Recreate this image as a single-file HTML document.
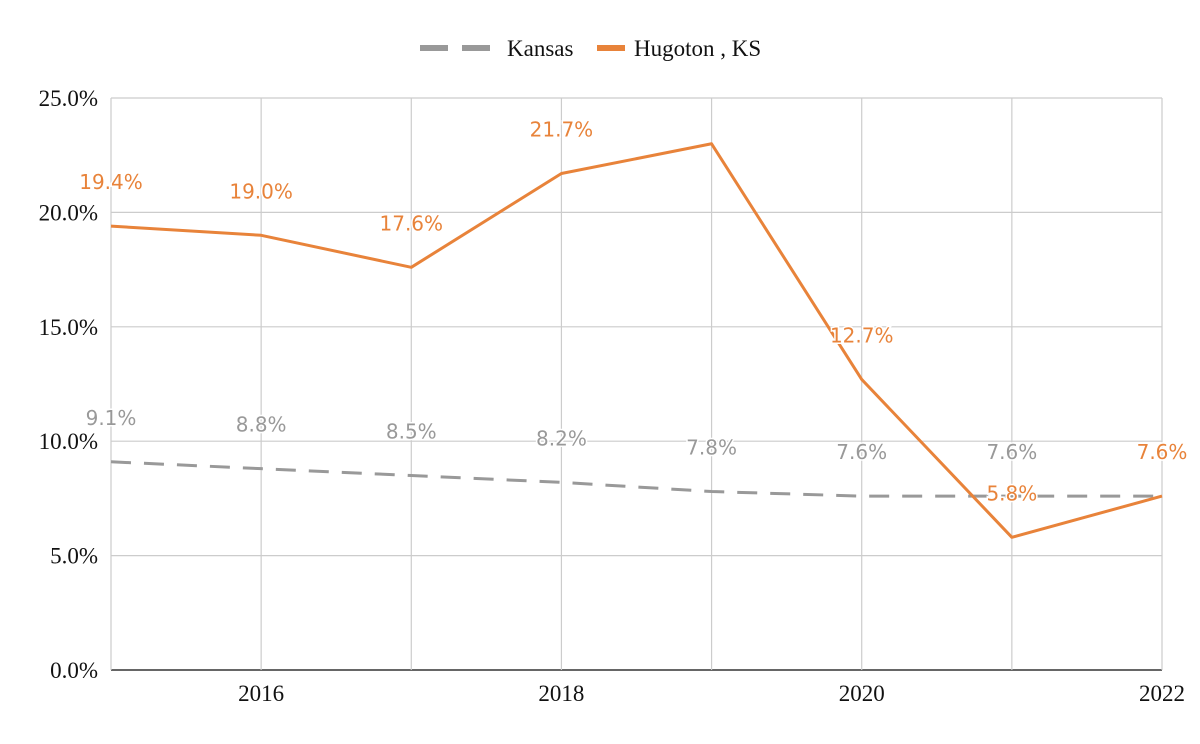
<!DOCTYPE html>
<html><head><meta charset="utf-8"><style>
body{margin:0;background:#fff}
svg{display:block}
.tick{font-family:"Liberation Serif",serif;font-size:23px;fill:#111}
.dl{font-family:"DejaVu Sans","Liberation Sans",sans-serif;font-size:20px}
</style></head><body>
<svg id="c" width="1200" height="744">
<g>
<line x1="420" y1="48" x2="490" y2="48" stroke="#999" stroke-width="6" stroke-dasharray="28,14"/>
<text x="507" y="56" class="tick">Kansas</text>
<line x1="597" y1="48" x2="625" y2="48" stroke="#e8833a" stroke-width="6"/>
<text x="634" y="56" class="tick">Hugoton , KS</text>
</g>
<g id="grid"></g><g id="series"></g><g id="labels"></g>
</svg>
<script>
const years=[2015,2016,2017,2018,2019,2020,2021,2022];
const kansas=[9.1,8.8,8.5,8.2,7.8,7.6,7.6,7.6];
const hugoton=[19.4,19.0,17.6,21.7,23.0,12.7,5.8,7.6];
const hugotonLabels=["19.4%","19.0%","17.6%","21.7%","","12.7%","5.8%","7.6%"];
const kansasLabels=["9.1%","8.8%","8.5%","8.2%","7.8%","7.6%","7.6%","7.6%"];
const yTicks=[0,5,10,15,20,25];
const xTicks=[2016,2018,2020,2022];
const NS="http://www.w3.org/2000/svg";
const X=v=>111+(v-2015)*(1162-111)/7;
const Y=v=>670-v*(670-98)/25;
function mk(t,a,p){const e=document.createElementNS(NS,t);for(const k in a)e.setAttribute(k,a[k]);p.appendChild(e);return e;}
const g=document.getElementById('grid');
yTicks.forEach(v=>{
 const l=mk('line',{x1:111,x2:1162,y1:Y(v),y2:Y(v),stroke:v===0?'#333':'#ccc','stroke-width':v===0?1.5:1.2},g);
 
 
 const t=mk('text',{x:98,y:Y(v)+8,'text-anchor':'end',class:'tick'},g);t.textContent=v.toFixed(1)+'%';
 
 
});
years.forEach(y=>{
 const l=mk('line',{x1:X(y),x2:X(y),y1:98,y2:670,stroke:'#ccc','stroke-width':1.2},g);
 
 
});
xTicks.forEach(y=>{
 const t=mk('text',{x:X(y),y:701,'text-anchor':'middle',class:'tick'},g);t.textContent=y;
 
 
});
const s=document.getElementById('series');
const pk=years.map((y,i)=>X(y)+','+Y(kansas[i])).join(' ');
const pl1=mk('polyline',{points:pk,fill:'none',stroke:'#999','stroke-width':3,'stroke-dasharray':'20,13'},s);


const ph=years.map((y,i)=>X(y)+','+Y(hugoton[i])).join(' ');
const pl2=mk('polyline',{points:ph,fill:'none',stroke:'#e8833a','stroke-width':3,'stroke-linejoin':'round'},s);


const L=document.getElementById('labels');
function lab(vals,txts,col,name){
 vals.forEach((v,i)=>{if(!txts[i])return;
  const t=mk('text',{x:X(years[i]),y:Y(v)-37,'text-anchor':'middle',class:'dl',fill:col,stroke:'#fff','stroke-width':3,'paint-order':'stroke'},L);
  t.textContent=txts[i];
  
  
 });
}
lab(kansas,kansasLabels,'#999','kansas-data-label');
lab(hugoton,hugotonLabels,'#e8833a','hugoton-data-label');
</script>
</body></html>
